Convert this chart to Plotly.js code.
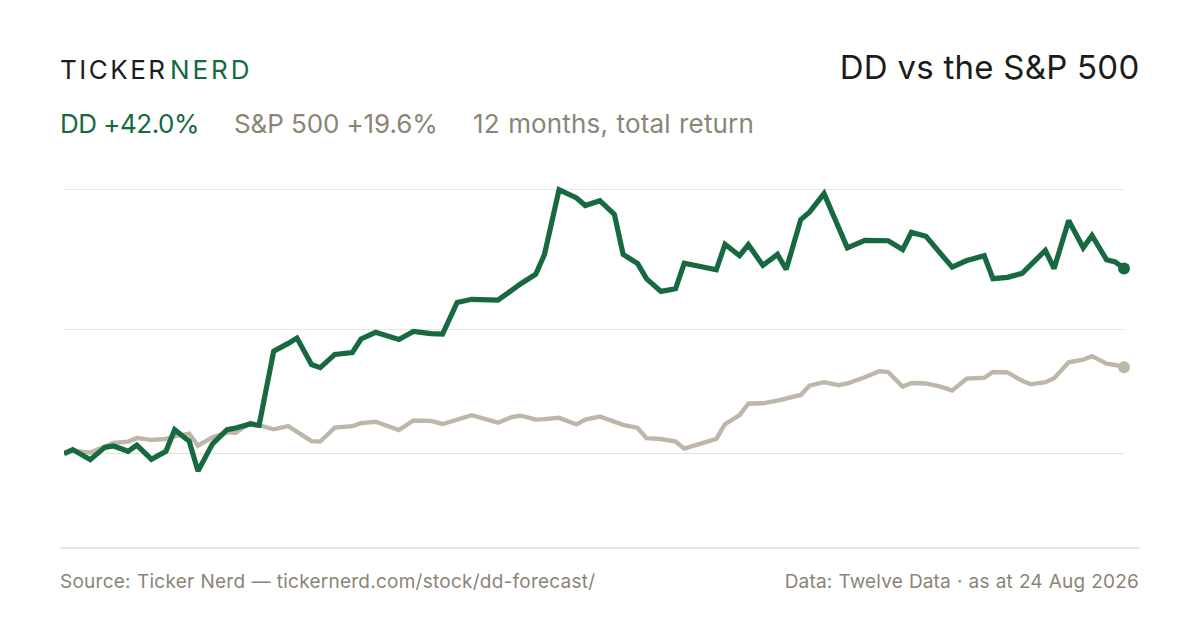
<!DOCTYPE html>
<html>
<head>
<meta charset="utf-8">
<script src="https://cdn.plot.ly/plotly-3.0.1.min.js"></script>
<style>
  html, body { margin: 0; padding: 0; background: #ffffff; }
  #chart { width: 1200px; height: 630px; }
  /* plotly has no tracking option for text, so it goes on the annotations here */
  g.annotation[data-index="0"] text { letter-spacing: 2.5px; }
  g.annotation[data-index="1"] text { letter-spacing: 2.9px; }
  g.annotation[data-index="2"] text { letter-spacing: 0.25px; }
  g.annotation[data-index="3"] text { letter-spacing: -0.5px; }
  g.annotation[data-index="4"] text { letter-spacing: -0.1px; }
  g.annotation[data-index="5"] text { letter-spacing: 0.15px; word-spacing: 1px; }
  g.annotation[data-index="6"] text { letter-spacing: 0.25px; word-spacing: 0.5px; }
  g.annotation[data-index="7"] text { letter-spacing: 0.17px; word-spacing: 0.5px; }
</style>
</head>
<body>
<div id="chart"></div>
<script>
// days since the start of the 12 month window
var days = [0, 3, 9, 14, 17, 22, 25, 30, 35, 38, 43, 46, 51, 56, 59, 64, 67, 72, 77, 80, 85, 88, 93, 99, 102, 107, 115, 120, 126, 130, 135, 140, 149, 154, 157, 162, 165, 170, 176, 179, 184, 189, 192, 197, 200, 205, 210, 213, 224, 227, 232, 235, 240, 245, 248, 253, 256, 261, 266, 269, 275, 280, 283, 288, 291, 296, 301, 305, 310, 316, 319, 324, 329, 332, 337, 340, 345, 350, 353, 358, 361, 364];

// total return, percent
var ddReturn = [0, 0.9, -1.4, 1.4, 1.7, 0.5, 1.9, -1.3, 0.5, 5.4, 2.8, -4.0, 2.2, 5.4, 5.8, 6.7, 6.4, 23.2, 25.0, 26.2, 20.2, 19.5, 22.5, 22.9, 26.0, 27.5, 25.9, 27.7, 27.2, 27.1, 34.3, 35.0, 34.8, 37.4, 38.6, 40.7, 45.2, 59.9, 58.0, 56.3, 57.4, 54.3, 45.2, 43.1, 39.7, 36.8, 37.4, 43.2, 41.7, 47.5, 44.9, 47.4, 42.7, 45.2, 41.8, 53.1, 54.8, 59.0, 51.3, 46.7, 48.4, 48.2, 48.3, 46.3, 50.2, 49.3, 45.6, 42.3, 43.8, 44.9, 39.7, 40.0, 40.9, 42.7, 46.1, 42.0, 52.9, 46.7, 49.5, 44.0, 43.5, 42.0];
var spReturn = [0, 0.7, 0.2, 1.6, 2.4, 2.7, 3.5, 3.1, 3.3, 3.9, 4.5, 1.8, 3.7, 4.8, 4.7, 7.0, 6.4, 5.5, 6.2, 5.0, 2.8, 2.7, 5.9, 6.2, 6.9, 7.2, 5.3, 7.5, 7.4, 6.7, 7.7, 8.7, 7.0, 8.3, 8.6, 7.7, 7.8, 8.1, 6.6, 7.7, 8.4, 7.3, 6.5, 5.8, 3.5, 3.3, 2.7, 1.1, 3.3, 6.7, 8.7, 11.3, 11.4, 12.0, 12.5, 13.3, 15.4, 16.2, 15.5, 15.9, 17.3, 18.7, 18.5, 15.2, 16.0, 15.9, 15.2, 14.3, 17.0, 17.2, 18.5, 18.4, 16.5, 15.7, 16.2, 17.1, 20.7, 21.3, 22.1, 20.4, 20.1, 19.6];

var gridValues = [0, 28.1, 60];

var green = '#17693f';
var sand = '#bdb6a9';
var grey = '#8a8575';
var ink = '#1c1c1a';
var fontName = 'Inter, sans-serif';

function last(values) {
  return values[values.length - 1];
}

function line_trace(values, color, width) {
  return {
    x: days,
    y: values,
    type: 'scatter',
    mode: 'lines',
    cliponaxis: false,
    hoverinfo: 'skip',
    line: { color: color, width: width, shape: 'linear' }
  };
}

function end_dot(values, color, size) {
  return {
    x: [last(days)],
    y: [last(values)],
    type: 'scatter',
    mode: 'markers',
    cliponaxis: false,
    hoverinfo: 'skip',
    marker: { color: color, size: size }
  };
}

function label(text, x, y, size, color, anchor) {
  return {
    text: text,
    xref: 'paper',
    yref: 'paper',
    x: (x - 64) / 1060,
    y: (548 - y) / 378,
    xanchor: anchor,
    yanchor: 'middle',
    showarrow: false,
    align: anchor,
    borderpad: 0,
    font: { family: fontName, size: size, color: color }
  };
}

var layout = {
  width: 1200,
  height: 630,
  showlegend: false,
  margin: { l: 64, r: 76, t: 170, b: 82, pad: 0 },
  paper_bgcolor: '#ffffff',
  plot_bgcolor: '#ffffff',
  font: { family: fontName },
  xaxis: {
    range: [0, 364],
    showgrid: false,
    zeroline: false,
    showline: false,
    showticklabels: false,
    ticks: ''
  },
  yaxis: {
    range: [-21.45, 64.36],
    tickmode: 'array',
    tickvals: gridValues,
    showticklabels: false,
    ticks: '',
    showgrid: true,
    gridcolor: '#e8e6df',
    gridwidth: 1.4,
    zeroline: true,
    zerolinecolor: '#e4e1d6',
    zerolinewidth: 1.4,
    showline: false
  },
  shapes: [{
    type: 'line',
    xref: 'paper',
    yref: 'paper',
    x0: -4 / 1060,
    x1: 1076 / 1060,
    y0: 0,
    y1: 0,
    line: { color: '#dfdccf', width: 1.6 }
  }],
  annotations: [
    label('TICKER', 59, 70, 26, ink, 'left'),
    label('NERD', 169, 70, 26, green, 'left'),
    label('DD vs the S&amp;P 500', 1140, 66.5, 33, ink, 'right'),
    label('DD +42.0%', 59, 123.5, 26, green, 'left'),
    label('S&amp;P 500 +19.6%', 233, 123.5, 26, grey, 'left'),
    label('12 months, total return', 472, 123.5, 26, grey, 'left'),
    label('Source: Ticker Nerd — tickernerd.com/stock/dd-forecast/', 59, 581, 19, grey, 'left'),
    label('Data: Twelve Data · as at 24 Aug 2026', 1140, 581, 19, grey, 'right')
  ]
};

var config = { displayModeBar: false, responsive: false, staticPlot: true };

Plotly.newPlot('chart', [
  line_trace(spReturn, sand, 4.4),
  line_trace(ddReturn, green, 5.2),
  end_dot(spReturn, sand, 12),
  end_dot(ddReturn, green, 12)
], layout, config);
</script>
</body>
</html>
